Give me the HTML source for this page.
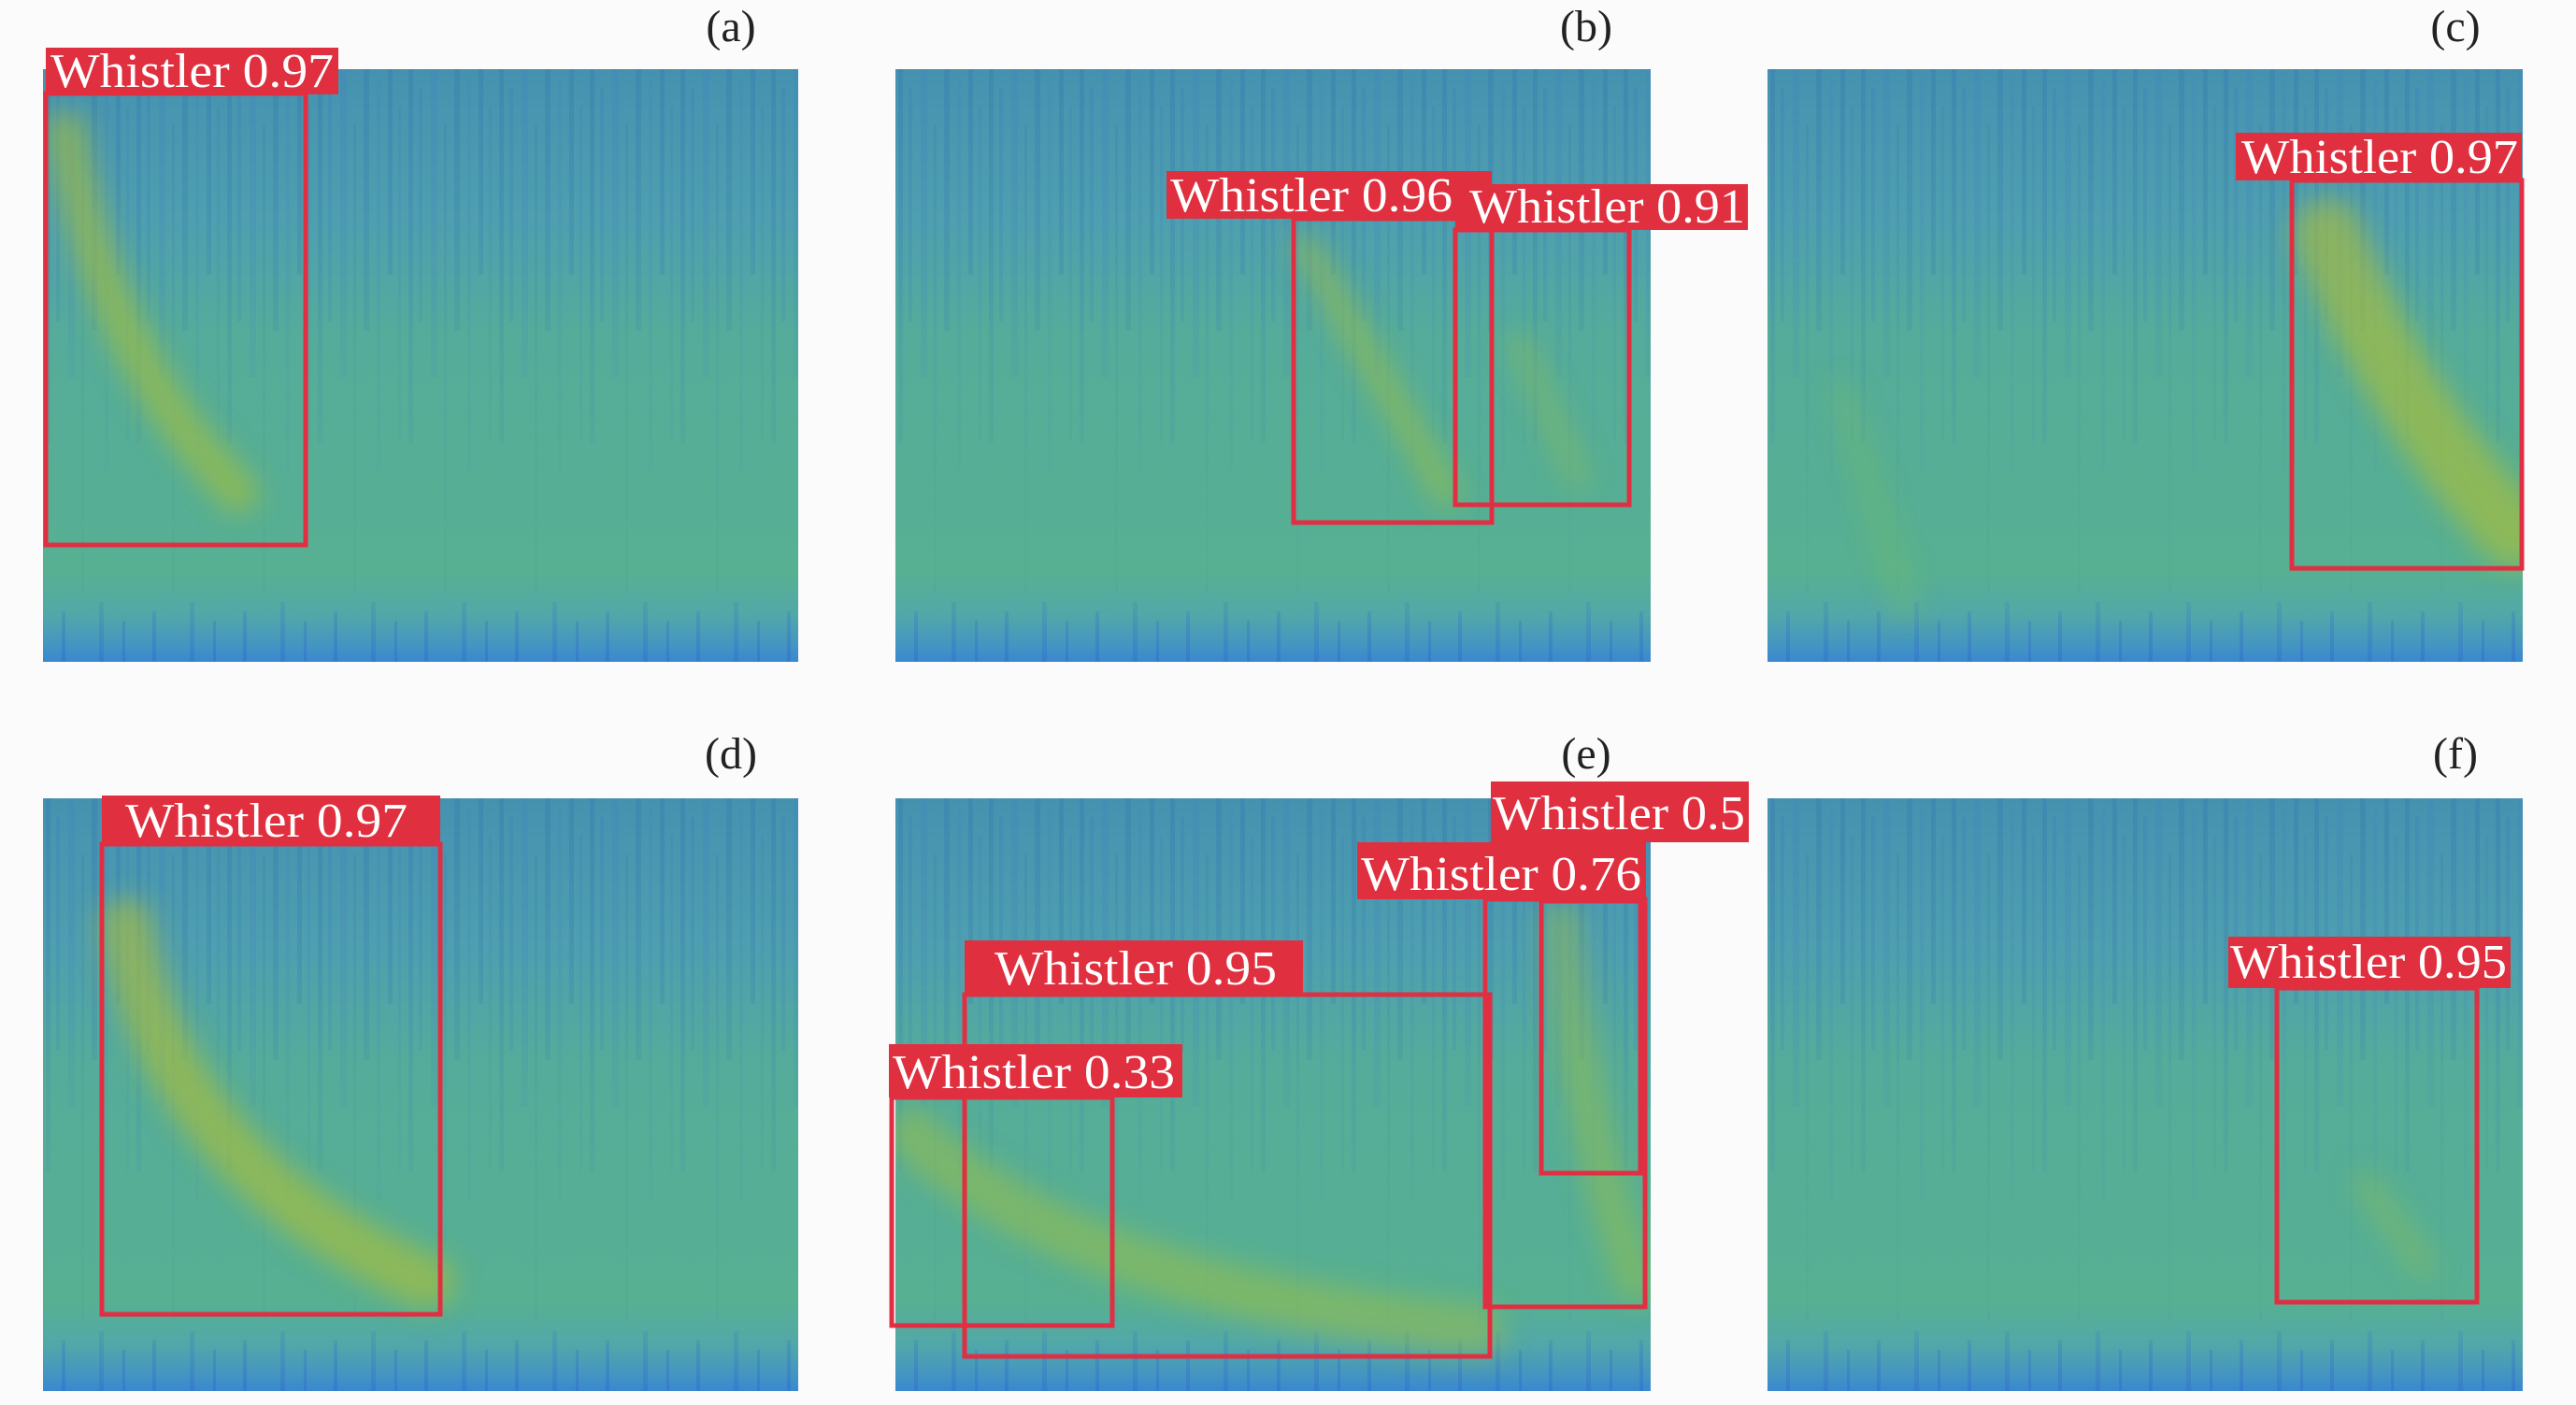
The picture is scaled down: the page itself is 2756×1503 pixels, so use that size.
<!DOCTYPE html>
<html><head><meta charset="utf-8"><style>
html,body{margin:0;padding:0;background:#fbfbfb;}
svg{display:block}
text{font-family:"Liberation Serif",serif;}
</style></head><body>
<svg width="2756" height="1503" viewBox="0 0 2756 1503" xmlns="http://www.w3.org/2000/svg">
<defs>
<linearGradient id="bg" x1="0" y1="0" x2="0" y2="1">
<stop offset="0" stop-color="#4592b0"/>
<stop offset="0.25" stop-color="#4e9fb0"/>
<stop offset="0.45" stop-color="#55ac9a"/>
<stop offset="0.85" stop-color="#57b092"/>
<stop offset="0.92" stop-color="#52a8a8"/>
<stop offset="0.97" stop-color="#4596c0"/>
<stop offset="1" stop-color="#3a88d0"/>
</linearGradient>
<linearGradient id="fade" x1="0" y1="0" x2="0" y2="1">
<stop offset="0" stop-color="#fff" stop-opacity="1"/>
<stop offset="0.5" stop-color="#fff" stop-opacity="0.3"/>
<stop offset="0.85" stop-color="#fff" stop-opacity="0.1"/>
<stop offset="1" stop-color="#fff" stop-opacity="0.8"/>
</linearGradient>
<pattern id="stripes" width="97" height="634" patternUnits="userSpaceOnUse">
<rect x="3" y="0" width="5" height="400" fill="#3a7fb0" opacity="0.5"/>
<rect x="14" y="20" width="4" height="250" fill="#3f86b8" opacity="0.45"/>
<rect x="27" y="0" width="7" height="330" fill="#4488bb" opacity="0.4"/>
<rect x="41" y="60" width="3" height="500" fill="#3d80a8" opacity="0.35"/>
<rect x="52" y="0" width="6" height="280" fill="#3a7fb0" opacity="0.45"/>
<rect x="66" y="10" width="4" height="420" fill="#4488bb" opacity="0.35"/>
<rect x="78" y="0" width="5" height="220" fill="#3a7fb0" opacity="0.5"/>
<rect x="89" y="40" width="3" height="360" fill="#3f86b8" opacity="0.35"/>
<rect x="20" y="580" width="4" height="54" fill="#3070c8" opacity="0.6"/>
<rect x="60" y="570" width="5" height="64" fill="#3070c8" opacity="0.5"/>
<rect x="85" y="590" width="3" height="44" fill="#3070c8" opacity="0.6"/>
</pattern>
<mask id="m"><rect x="0" y="0" width="808" height="634" fill="url(#fade)"/></mask>
<filter id="blur" x="-50%" y="-50%" width="200%" height="200%"><feGaussianBlur stdDeviation="14"/></filter>
<g id="panel">
<rect x="0" y="0" width="808" height="634" fill="url(#bg)"/>
<rect x="0" y="0" width="808" height="634" fill="url(#stripes)" mask="url(#m)"/>
</g>
<clipPath id="cp">
<rect x="46" y="74" width="808" height="634"/><rect x="958" y="74" width="808" height="634"/><rect x="1891" y="74" width="808" height="634"/>
<rect x="46" y="854" width="808" height="634"/><rect x="958" y="854" width="808" height="634"/><rect x="1891" y="854" width="808" height="634"/>
</clipPath>
</defs>

<use href="#panel" x="46" y="74"/>
<use href="#panel" x="958" y="74"/>
<use href="#panel" x="1891" y="74"/>
<use href="#panel" x="46" y="854"/>
<use href="#panel" x="958" y="854"/>
<use href="#panel" x="1891" y="854"/>

<g clip-path="url(#cp)">
<g fill="none" stroke-linecap="round" filter="url(#blur)">
<path d="M70 140 Q110 380 255 527" stroke="#a8c038" stroke-width="44" opacity="0.6"/>
<path d="M1397 264 L1547 527" stroke="#a0c040" stroke-width="30" opacity="0.55"/>
<path d="M1626 369 L1688 510" stroke="#98c048" stroke-width="26" opacity="0.4"/>
<path d="M2490 250 Q2560 430 2690 570" stroke="#b0c030" stroke-width="75" opacity="0.6"/>
<path d="M1970 420 L2040 650" stroke="#80c050" stroke-width="26" opacity="0.3"/>
<path d="M135 990 Q180 1250 457 1371" stroke="#b0c030" stroke-width="58" opacity="0.6"/>
<path d="M976 1213 Q1150 1380 1582 1424" stroke="#a0c040" stroke-width="55" opacity="0.5"/>
<path d="M1670 985 Q1690 1200 1750 1371" stroke="#a0c040" stroke-width="42" opacity="0.45"/>
<path d="M2531 1266 L2593 1354" stroke="#98c048" stroke-width="26" opacity="0.4"/>
</g>
</g>

<g fill="none" stroke="#e02f42" stroke-width="5">
<rect x="49" y="100" width="278" height="483"/>
<rect x="1384" y="234" width="212" height="325"/>
<rect x="1557" y="246" width="186" height="294"/>
<rect x="2452" y="193" width="246" height="415"/>
<rect x="109" y="903" width="362" height="503"/>
<rect x="1589" y="962" width="171" height="436"/>
<rect x="1649" y="964" width="106" height="291"/>
<rect x="1032" y="1064" width="562" height="387"/>
<rect x="954" y="1174" width="236" height="244"/>
<rect x="2436" y="1057" width="214" height="336"/>
</g>

<g fill="#e0303f">
<rect x="49" y="51" width="313" height="50"/>
<rect x="1248" y="183" width="348" height="51"/>
<rect x="1557" y="197" width="313" height="49"/>
<rect x="2392" y="142" width="306" height="51"/>
<rect x="109" y="851" width="362" height="52"/>
<rect x="1595" y="836" width="276" height="65"/>
<rect x="1452" y="901" width="309" height="61"/>
<rect x="1032" y="1006" width="362" height="58"/>
<rect x="951" y="1117" width="314" height="57"/>
<rect x="2384" y="1002" width="302" height="55"/>
</g>
<g fill="#fff" font-size="52" lengthAdjust="spacingAndGlyphs">
<text x="54" y="93" textLength="303" lengthAdjust="spacingAndGlyphs">Whistler 0.97</text>
<text x="1252" y="226" textLength="302" lengthAdjust="spacingAndGlyphs">Whistler 0.96</text>
<text x="1572" y="238" textLength="295" lengthAdjust="spacingAndGlyphs">Whistler 0.91</text>
<text x="2398" y="185" textLength="296" lengthAdjust="spacingAndGlyphs">Whistler 0.97</text>
<text x="134" y="895" textLength="302" lengthAdjust="spacingAndGlyphs">Whistler 0.97</text>
<text x="1597" y="887" textLength="270" lengthAdjust="spacingAndGlyphs">Whistler 0.5</text>
<text x="1456" y="952" textLength="300" lengthAdjust="spacingAndGlyphs">Whistler 0.76</text>
<text x="1064" y="1053" textLength="302" lengthAdjust="spacingAndGlyphs">Whistler 0.95</text>
<text x="955" y="1164" textLength="302" lengthAdjust="spacingAndGlyphs">Whistler 0.33</text>
<text x="2386" y="1046" textLength="296" lengthAdjust="spacingAndGlyphs">Whistler 0.95</text>
</g>

<g fill="#222" font-size="48" text-anchor="middle">
<text x="782" y="44">(a)</text>
<text x="1697" y="44">(b)</text>
<text x="2627" y="44">(c)</text>
<text x="782" y="822">(d)</text>
<text x="1697" y="822">(e)</text>
<text x="2627" y="822">(f)</text>
</g>
</svg>
</body></html>
